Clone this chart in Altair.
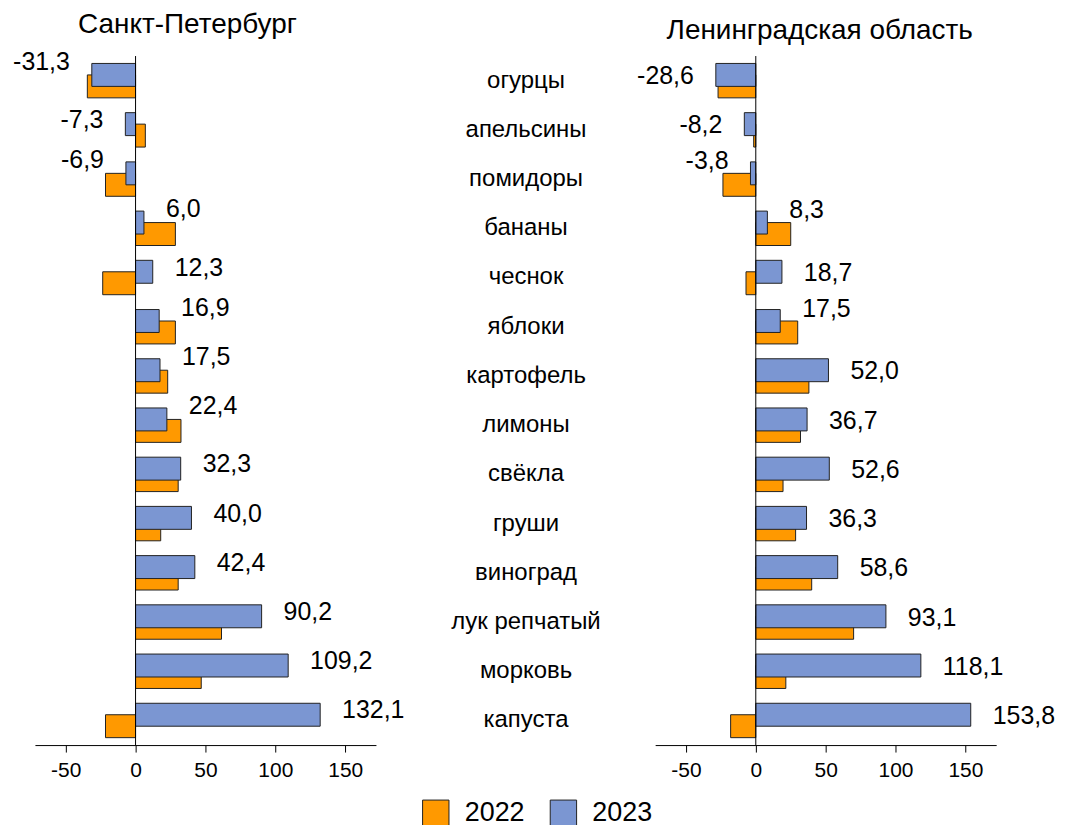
import altair as alt
import pandas as pd

categories = ["огурцы", "апельсины", "помидоры", "бананы", "чеснок", "яблоки",
              "картофель", "лимоны", "свёкла", "груши", "виноград",
              "лук репчатый", "морковь", "капуста"]
spb_2022 = [-34.5, 7.0, -21.5, 28.5, -23.5, 28.5, 23.0, 32.5, 30.5, 18.0, 30.5, 61.5, 47.0, -21.5]
spb_2023 = [-31.3, -7.3, -6.9, 6.0, 12.3, 16.9, 17.5, 22.4, 32.3, 40.0, 42.4, 90.2, 109.2, 132.1]
lo_2022 = [-27.0, -1.5, -23.5, 25.0, -7.0, 30.0, 38.0, 32.0, 19.5, 28.5, 40.0, 70.0, 21.5, -18.0]
lo_2023 = [-28.6, -8.2, -3.8, 8.3, 18.7, 17.5, 52.0, 36.7, 52.6, 36.3, 58.6, 93.1, 118.1, 153.8]
years = ["2022", "2023"]
regions = ["Санкт-Петербург", "Ленинградская область"]
ticks = [-50, 0, 50, 100, 150]

rows = []
for reg, v22, v23 in [(regions[0], spb_2022, spb_2023), (regions[1], lo_2022, lo_2023)]:
    for c, a, b in zip(categories, v22, v23):
        rows.append({"region": reg, "cat": c, "year": "2022", "value": a})
        rows.append({"region": reg, "cat": c, "year": "2023", "value": b})
df = pd.DataFrame(rows)

FONT = "Liberation Sans"
ORANGE = "#FF9900"
BLUE = "#7B96D2"
W, H = 342, 691

LAB = "replace(replace(format(datum.v23, '.1f'), '\u2212', '-'), '.', ',')"
# a label is "blocked" when the 2022 bar of the same sign reaches past the 2023 bar
BLOCKED = "(datum.v22 * datum.v23 > 0) && (abs(datum.v22) > abs(datum.v23))"


def panel(region, show_y, title_dx, dy_clear, dy_blocked):
    base = alt.Chart(df).transform_filter(alt.datum.region == region)
    xs = alt.Scale(domain=[-72, 172], nice=False, zero=False)
    ys = alt.Scale(domain=categories, paddingInner=0, paddingOuter=0)
    if show_y:
        yaxis = alt.Axis(title=None, domain=False, ticks=False, labelAlign="center",
                         labelPadding=130, labelFontSize=24, labelFont=FONT,
                         labelColor="black", labelBaseline="middle")
    else:
        yaxis = None
    xaxis = alt.Axis(title=None, values=ticks, grid=False, domainColor="black",
                     tickColor="black", tickSize=7, labelFontSize=21, labelPadding=8,
                     labelColor="black", labelFont=FONT, labelFlush=False,
                     labelExpr="replace(datum.label, '\u2212', '-')")
    color = alt.Color("year:N", scale=alt.Scale(domain=years, range=[ORANGE, BLUE]),
                      legend=alt.Legend(title=None, orient="none", direction="horizontal",
                                        legendX=388, legendY=745,
                                        symbolType="square", symbolSize=700,
                                        symbolStrokeColor="#222", symbolStrokeWidth=1,
                                        symbolOpacity=1,
                                        labelFontSize=27, labelFont=FONT, labelColor="black",
                                        labelOffset=15, columnPadding=22))
    b22 = base.transform_filter(alt.datum.year == "2022").mark_bar(
        height=23, yOffset=5.75, stroke="#222", strokeWidth=1, opacity=1
    ).encode(
        x=alt.X("value:Q", scale=xs, axis=xaxis),
        y=alt.Y("cat:N", scale=ys, axis=yaxis, sort=categories),
        color=color,
    )
    b23 = base.transform_filter(alt.datum.year == "2023").mark_bar(
        height=23, yOffset=-5.75, stroke="#222", strokeWidth=1, opacity=1
    ).encode(
        x=alt.X("value:Q"),
        y=alt.Y("cat:N", sort=categories),
        color=color,
    )
    zero = alt.Chart(pd.DataFrame({"z": [0]})).mark_rule(color="black", strokeWidth=1).encode(
        x="z:Q"
    )
    wide = base.transform_pivot("year", value="value", groupby=["cat"]).transform_calculate(
        v22="datum['2022']", v23="datum['2023']"
    ).transform_calculate(lab=LAB, blocked=BLOCKED)

    def labels(sign_pos, blocked):
        cond = "datum.v23 >= 0" if sign_pos else "datum.v23 < 0"
        cond += " && datum.blocked" if blocked else " && !datum.blocked"
        return wide.transform_filter(cond).mark_text(
            align="left" if sign_pos else "right", dx=22 if sign_pos else -22,
            dy=dy_blocked if blocked else dy_clear,
            fontSize=25, font=FONT, baseline="middle", color="black",
        ).encode(x="v23:Q", y=alt.Y("cat:N", sort=categories), text="lab:N")

    layers = [b22, b23, zero,
              labels(True, False), labels(True, True),
              labels(False, False), labels(False, True)]
    return alt.layer(*layers).properties(
        width=W, height=H,
        title=alt.TitleParams(region, fontSize=28, font=FONT, fontWeight="normal",
                              color="black", anchor="middle", frame="group",
                              dx=title_dx, offset=-11, baseline="alphabetic"),
    )


chart = alt.hconcat(
    panel(regions[0], False, -18, -10, -19),
    panel(regions[1], True, -6, -4.5, -18),
    spacing=280, bounds="flush",
).properties(
    padding={"left": 5, "top": 1, "right": 5, "bottom": 5}
).configure_view(stroke=None)

chart.save("out.html", embed_options={"renderer": "svg", "actions": False})
